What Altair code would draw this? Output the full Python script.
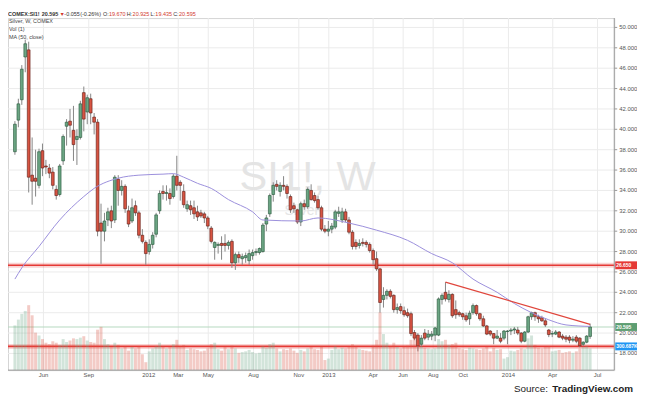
import altair as alt
import pandas as pd

# ---------------- data (weekly candles, COMEX silver) ----------------
first_week = "2011-04-04"

opens = [
    37.8, 40.9, 42.9, 47.1, 47.8, 35.5, 35.2, 34.5, 37.9, 36.4,
    36.2, 35.8, 34.1, 33.6, 36.9, 40.3, 40.8, 39.9, 39.0, 39.2,
    43.6, 41.7, 43.0, 41.2, 40.7, 30.8, 30.0, 31.1, 32.0, 31.1,
    35.1, 34.0, 34.4, 32.0, 31.0, 32.5, 31.8, 29.6, 28.9, 28.0,
    28.7, 29.7, 32.0, 33.9, 33.7, 33.7, 33.4, 35.4, 34.8, 33.9,
    32.2, 32.5, 32.3, 31.9, 31.8, 31.7, 31.3, 30.3, 28.4, 28.6,
    28.8, 28.8, 28.6, 29.0, 26.9, 27.7, 27.3, 27.4, 27.1, 27.6,
    27.9, 27.9, 28.0, 30.7, 31.7, 33.6, 34.6, 33.9, 34.5, 34.4,
    33.4, 32.5, 32.1, 30.9, 32.7, 32.4, 34.0, 33.5, 33.1, 32.3,
    30.2, 30.0, 30.2, 30.4, 31.75, 31.1, 31.9, 31.1, 29.9, 28.9,
    28.6, 28.9, 28.9, 28.7, 28.1, 27.3, 26.3, 23.3, 23.7, 24.1,
    23.7, 22.3, 22.6, 22.2, 22.0, 21.9, 20.05, 19.8, 18.9, 20.0,
    19.6, 19.7, 19.8, 19.8, 23.3, 24.0, 23.3, 23.8, 22.3, 22.0,
    21.9, 21.7, 21.4, 22.0, 22.7, 21.9, 21.4, 20.7, 20.2, 19.95,
    19.5, 19.5, 19.5, 20.15, 20.2, 20.3, 20.3, 20.0, 19.2, 20.1,
    21.6, 22.0, 21.6, 21.5, 21.2, 20.3, 19.9, 19.9, 20.1, 19.7,
    19.6, 19.6, 19.3, 19.6, 19.5, 18.9, 19.1, 19.67,
]
highs = [
    40.8, 43.0, 46.3, 48.8, 48.6, 39.2, 38.0, 38.1, 38.6, 37.0,
    36.6, 36.3, 34.5, 36.6, 39.5, 41.0, 42.0, 42.3, 40.0, 42.8,
    44.2, 43.4, 43.5, 41.6, 41.0, 32.7, 31.8, 32.3, 32.5, 35.5,
    35.5, 35.0, 34.6, 32.5, 33.2, 33.0, 32.0, 30.2, 29.1, 29.2,
    29.9, 31.8, 34.0, 34.5, 34.5, 34.2, 35.6, 37.4, 35.0, 34.6,
    33.0, 33.0, 33.0, 32.5, 32.1, 31.9, 31.5, 30.5, 29.0, 28.9,
    29.5, 29.7, 29.1, 29.2, 27.9, 28.0, 27.8, 27.9, 28.2, 28.2,
    28.3, 28.4, 30.8, 31.6, 33.7, 34.8, 35.0, 34.8, 35.4, 34.6,
    33.6, 32.8, 32.2, 32.9, 33.1, 34.3, 34.6, 33.8, 33.5, 32.5,
    30.6, 31.0, 30.8, 32.1, 32.4, 32.3, 32.2, 31.4, 30.1, 29.2,
    29.2, 29.3, 29.1, 28.9, 28.3, 28.0, 26.4, 24.5, 24.3, 24.3,
    23.8, 22.9, 22.9, 22.6, 22.4, 22.1, 20.3, 20.0, 19.8, 20.4,
    20.3, 20.2, 20.6, 23.5, 23.9, 25.0, 24.2, 23.9, 23.2, 22.2,
    22.0, 22.0, 22.2, 22.9, 22.8, 22.0, 21.7, 20.8, 20.3, 20.0,
    20.3, 20.0, 20.3, 20.3, 20.5, 20.6, 20.6, 20.1, 20.2, 21.7,
    22.1, 22.1, 21.8, 21.7, 21.4, 20.4, 20.2, 20.3, 20.2, 19.9,
    19.8, 19.8, 19.7, 19.8, 19.6, 19.2, 19.8, 20.925,
]
lows = [
    37.5, 40.2, 42.4, 45.6, 33.8, 32.6, 33.4, 34.2, 35.4, 35.6,
    35.2, 34.1, 33.1, 33.4, 36.5, 38.4, 39.2, 36.9, 36.5, 39.0,
    39.8, 40.5, 40.5, 39.5, 29.5, 26.8, 29.0, 30.5, 30.3, 30.8,
    32.5, 33.5, 31.8, 30.4, 30.8, 31.5, 29.3, 28.8, 26.7, 27.7,
    28.3, 29.4, 31.7, 33.1, 33.0, 32.6, 33.2, 34.0, 33.0, 32.3,
    31.9, 31.6, 31.2, 31.0, 31.3, 30.8, 30.2, 28.8, 27.2, 27.8,
    27.2, 28.0, 28.2, 26.4, 26.2, 26.9, 26.7, 26.9, 26.7, 27.2,
    27.6, 27.7, 27.9, 30.0, 31.4, 32.9, 34.0, 33.4, 34.0, 33.2,
    31.8, 31.8, 30.7, 30.5, 32.1, 32.2, 33.0, 32.8, 32.1, 30.0,
    29.8, 29.5, 29.8, 30.2, 31.4, 30.8, 30.9, 29.7, 28.2, 28.2,
    28.3, 28.5, 28.4, 27.9, 26.7, 26.1, 22.0, 22.5, 23.3, 23.4,
    22.0, 21.9, 21.9, 21.6, 21.5, 19.7, 19.3, 18.2, 18.7, 19.3,
    19.3, 19.3, 19.2, 19.7, 22.8, 23.1, 23.0, 21.5, 21.4, 21.6,
    21.3, 21.1, 20.8, 21.8, 21.7, 21.2, 20.6, 19.8, 19.7, 18.9,
    19.4, 19.0, 19.3, 18.9, 19.8, 19.9, 19.8, 19.0, 19.1, 20.0,
    21.3, 21.2, 21.0, 21.1, 20.6, 19.6, 19.6, 19.8, 19.5, 19.3,
    19.1, 19.0, 19.1, 19.0, 18.6, 18.7, 19.0, 19.435,
]
closes = [
    40.5, 42.5, 45.9, 48.4, 35.3, 34.9, 34.9, 37.8, 36.2, 36.3,
    35.7, 34.5, 33.5, 36.4, 39.3, 40.7, 40.4, 38.5, 39.3, 42.5,
    41.0, 43.1, 41.6, 40.7, 30.0, 30.0, 31.0, 31.9, 31.0, 35.3,
    34.0, 34.4, 32.2, 30.7, 32.3, 31.8, 29.6, 29.0, 27.8, 28.7,
    29.6, 31.6, 33.7, 33.7, 33.8, 33.2, 35.4, 34.5, 34.5, 32.6,
    32.6, 32.1, 31.7, 31.4, 31.5, 31.3, 30.5, 29.0, 28.9, 28.7,
    28.6, 28.6, 28.9, 26.9, 27.7, 27.4, 27.5, 27.6, 27.8, 27.9,
    28.0, 28.3, 30.6, 31.3, 33.5, 34.5, 34.4, 34.5, 34.4, 33.7,
    32.1, 32.2, 30.9, 32.7, 32.4, 34.1, 33.1, 33.0, 32.3, 30.2,
    30.0, 30.2, 30.5, 31.9, 31.9, 31.9, 31.1, 29.9, 28.5, 28.5,
    28.8, 28.8, 28.7, 28.1, 27.2, 26.3, 23.0, 23.7, 24.1, 23.6,
    22.3, 22.5, 22.2, 21.8, 21.7, 19.95, 19.5, 18.75, 19.5, 19.5,
    19.9, 19.9, 20.5, 23.35, 23.7, 23.35, 23.8, 21.7, 21.8, 21.8,
    21.6, 21.3, 21.95, 22.7, 21.9, 21.4, 20.7, 19.9, 19.9, 19.5,
    19.7, 19.2, 20.2, 20.2, 20.3, 20.4, 20.0, 19.2, 20.1, 21.6,
    22.0, 21.6, 21.4, 21.2, 20.8, 19.85, 19.95, 20.1, 19.6, 19.5,
    19.4, 19.3, 19.4, 19.2, 18.75, 19.1, 19.7, 20.595,
]
volumes_k = [
    620, 700, 780, 820, 900, 760, 520, 480, 430, 380,
    360, 400, 380, 350, 430, 390, 410, 440, 430, 450,
    470, 410, 390, 380, 560, 600, 430, 360, 320, 380,
    350, 300, 330, 270, 320, 300, 330, 220, 110, 260,
    300, 330, 380, 330, 300, 320, 360, 420, 330, 350,
    280, 300, 290, 280, 260, 270, 300, 360, 380, 290,
    270, 320, 290, 340, 300, 240, 250, 260, 280, 250,
    230, 240, 330, 310, 360, 380, 300, 260, 290, 280,
    300, 270, 240, 280, 260, 300, 320, 290, 280, 330,
    140, 160, 280, 330, 290, 310, 300, 320, 360, 330,
    290, 280, 270, 260, 340, 420, 800, 500, 380, 330,
    380, 320, 300, 330, 340, 420, 450, 400, 330, 310,
    300, 290, 300, 430, 400, 420, 350, 360, 380, 300,
    290, 280, 310, 300, 290, 280, 300, 320, 260, 310,
    280, 290, 160, 180, 270, 260, 280, 300, 290, 440,
    480, 350, 310, 300, 320, 330, 260, 270, 280, 240,
    250, 260, 240, 260, 300, 320, 330, 300.687,
]

# MA(50, close) at these candle numbers
ma_week = [0, 2, 7, 13, 20, 23, 30, 36, 43, 46, 49, 53, 57, 62, 69, 72, 83, 88, 97,
           105, 114, 121, 127, 133, 140, 145, 150, 155, 160, 167]
ma_value = [25.3, 26.4, 28.5, 31.1, 33.4, 34.2, 35.2, 35.5, 35.6, 35.65, 35.3, 34.7, 34.2,
            33.1, 31.9, 31.1, 31.0, 31.3, 30.8, 30.1, 29.1, 27.8, 26.9, 25.3, 24.0, 22.9,
            22.0, 21.3, 20.8, 20.65]

support_levels = [26.65, 18.69]
trend_week = [125, 167]
trend_price = [25.0, 20.85]
last_price = 20.595

tag_levels = [26.65, 20.595, 18.69]
tag_texts = ["26.650", "20.595", "300.687K"]
tag_colors = ["#e53935", "#5e9e72", "#2196f3"]

price_ticks = [18, 20, 22, 24, 26, 28, 30, 32, 34, 36, 38, 40, 42, 44, 46, 48, 50]
month_tick_dates = ["2011-06-01", "2011-09-01", "2012-01-01", "2012-03-01", "2012-05-01",
                    "2012-08-01", "2012-11-01", "2013-01-01", "2013-04-01", "2013-06-01",
                    "2013-08-01", "2013-10-01", "2014-01-01", "2014-04-01", "2014-07-01"]
month_tick_labels = ["Jun", "Sep", "2012", "Mar", "May", "Aug", "Nov", "2013", "Apr", "Jun",
                     "Aug", "Oct", "2014", "Apr", "Jul"]

# header pieces: (x offset in px, text, colour, bold)
header_parts = [
    (0, "COMEX:SI1!", "#333333", True), (34, "20.595", "#333333", True),
    (52, "▼", "#d23a2e", False), (57, "-0.055", "#333333", False),
    (73, "(-0.26%)", "#333333", False),
    (96, "O:", "#333333", False), (102, "19.670", "#d23a2e", False),
    (120, "H:", "#333333", False), (126, "20.925", "#d23a2e", False),
    (144, "L:", "#333333", False), (149, "19.435", "#d23a2e", False),
    (167, "C:", "#333333", False), (173, "20.595", "#d23a2e", False),
]
legend_lines = ["Silver, W, COMEX", "Vol (1)", "MA (50, close)"]
legend_y = [3, 11, 19]

# ---------------- tables ----------------
dates = pd.date_range(first_week, periods=len(closes), freq="7D")
date_str = [d.strftime("%Y-%m-%dT00:00:00Z") for d in dates]

candles = pd.DataFrame({"date": date_str, "open": opens, "high": highs, "low": lows,
                        "close": closes, "vol": volumes_k})
candles["dir"] = ["up" if c >= o else "down" for o, c in zip(opens, closes)]

ma_df = pd.DataFrame({"date": [date_str[i] for i in ma_week], "ma": ma_value})
trend_df = pd.DataFrame({"date": [date_str[i] for i in trend_week], "p": trend_price})
levels_df = pd.DataFrame({"level": support_levels})
last_df = pd.DataFrame({"level": [last_price]})
tags_df = pd.DataFrame({"level": tag_levels, "label": tag_texts, "col": tag_colors})
yt_df = pd.DataFrame({"level": price_ticks, "label": [f"{v:.3f}" for v in price_ticks]})
xt_df = pd.DataFrame({"date": [d + "T00:00:00Z" for d in month_tick_dates],
                      "label": month_tick_labels})

W, H = 613, 356
P_MIN, P_MAX = 16.36, 50.92
V_MAX = 4877
UP, DOWN = "#6ba583", "#d75442"
FONT = "Liberation Sans"
GRID = "#ebebeb"
AX = "#9a9a9a"

xs = alt.Scale(type="utc", domain=[alt.DateTime(year=2011, month=3, date=31, utc=True),
                                   alt.DateTime(year=2014, month=7, date=25, utc=True)])
ps = alt.Scale(domain=[P_MIN, P_MAX], zero=False, nice=False)
dir_scale = alt.Scale(domain=["up", "down"], range=[UP, DOWN])

xd = alt.X("date:T", scale=xs, axis=None)


def yq(field):
    return alt.Y(field, scale=ps, axis=None)


def text_at(txt, x, y, **kw):
    return alt.Chart(pd.DataFrame({"t": [txt]})).mark_text(**kw).encode(
        x=alt.value(x), y=alt.value(y), text="t:N")


# ---------------- layers ----------------
volume = alt.Chart(candles).mark_bar(size=3.0, opacity=0.3).encode(
    x=xd,
    y=alt.Y("vol:Q", scale=alt.Scale(domain=[0, V_MAX], nice=False), axis=None),
    color=alt.Color("dir:N", scale=dir_scale, legend=None),
)

# hand-drawn axes and grid
hgrid = alt.Chart(yt_df).mark_rule(color=GRID, strokeWidth=1).encode(y=yq("level:Q"))
vgrid = alt.Chart(xt_df).mark_rule(color=GRID, strokeWidth=1).encode(x=xd)
yticks = alt.Chart(yt_df).mark_rule(color=AX, strokeWidth=1).encode(
    x=alt.value(W), x2=alt.value(W + 3), y=yq("level:Q"))
ylabels = alt.Chart(yt_df).mark_text(
    align="left", baseline="middle", fontSize=6, font=FONT, color="#555555"
).encode(x=alt.value(W + 5), y=yq("level:Q"), text="label:N")
xlabels = alt.Chart(xt_df).mark_text(
    align="center", baseline="middle", fontSize=6, font=FONT, color="#555555"
).encode(x=xd, y=alt.value(H + 5), text="label:N")
ydomain = alt.Chart(pd.DataFrame({"k": [0]})).mark_rule(color=AX, strokeWidth=1).encode(
    x=alt.value(W), y=alt.value(0), y2=alt.value(H))
xdomain = alt.Chart(pd.DataFrame({"k": [0]})).mark_rule(color=AX, strokeWidth=1).encode(
    x=alt.value(0), x2=alt.value(W), y=alt.value(H))

watermark = text_at("SI1!, W", 303, 161, fontSize=42, color="#e4e4e4", font=FONT,
                    align="center", baseline="middle")
watermark2 = text_at("Silver", 297, 195, fontSize=14, color="#e4e4e4", font=FONT,
                     align="center", baseline="middle")

wicks = alt.Chart(candles).mark_rule(color="#858585", strokeWidth=1).encode(
    x=xd, y=yq("low:Q"), y2="high:Q")

bodies = alt.Chart(candles).mark_bar(size=2.8, strokeWidth=0.6).encode(
    x=xd, y=yq("open:Q"), y2="close:Q",
    color=alt.Color("dir:N", scale=dir_scale, legend=None),
    stroke=alt.Stroke("dir:N", scale=alt.Scale(domain=["up", "down"], range=["#225437", "#5b1a13"]), legend=None),
)

halo = alt.Chart(levels_df).mark_rule(color="#e53935", strokeWidth=5, opacity=0.22).encode(
    y=yq("level:Q"))
level_lines = alt.Chart(levels_df).mark_rule(color="#e53935", strokeWidth=1.6).encode(
    y=yq("level:Q"))
last_line = alt.Chart(last_df).mark_rule(color="#b5d9bf", strokeWidth=1).encode(
    y=yq("level:Q"))

ma_line = alt.Chart(ma_df).mark_line(color="#9b8fdc", strokeWidth=1, interpolate="monotone").encode(
    x=xd, y=yq("ma:Q"))
trend = alt.Chart(trend_df).mark_line(color="#e0463c", strokeWidth=1.2).encode(
    x=xd, y=yq("p:Q"))

tag_boxes = alt.Chart(tags_df).mark_rule(strokeWidth=8).encode(
    x=alt.value(W + 1), x2=alt.value(W + 23), y=yq("level:Q"),
    color=alt.Color("col:N", scale=None))
tag_text = alt.Chart(tags_df).mark_text(
    align="left", baseline="middle", fontSize=5, color="white", font=FONT, fontWeight="bold"
).encode(x=alt.value(W + 2), y=yq("level:Q"), text="label:N")

price_layer = alt.layer(hgrid, vgrid, watermark, watermark2, ylabels, yticks, halo, level_lines,
                        last_line, wicks, bodies, ma_line, trend, tag_boxes, tag_text)

overlays = [xlabels, ydomain, xdomain]
for px, txt, col, bold in header_parts:
    kw = dict(align="left", baseline="middle", fontSize=5.5, font=FONT, color=col)
    if bold:
        kw["fontWeight"] = "bold"
    overlays.append(text_at(txt, px, -4, **kw))
for txt, py in zip(legend_lines, legend_y):
    overlays.append(text_at(txt, 1, py, align="left", baseline="middle", fontSize=5.5,
                            font=FONT, color="#444444"))
overlays.append(text_at("Source:", 546, 375, align="right", baseline="middle", fontSize=10,
                        font=FONT, color="#222222"))
overlays.append(text_at("TradingView.com", 632, 375, align="right", baseline="middle",
                        fontSize=10, font=FONT, fontWeight="bold", color="#222222"))

chart = alt.layer(price_layer, volume, *overlays).resolve_scale(
    y="independent"
).properties(
    width=W, height=H,
    padding={"left": 0, "top": 8, "right": 23, "bottom": 26},
    autosize=alt.AutoSizeParams(type="none"),
    background="white",
).configure_view(stroke="#d4d4d4")

chart.save("out.html", embed_options={"renderer": "svg", "actions": False})
